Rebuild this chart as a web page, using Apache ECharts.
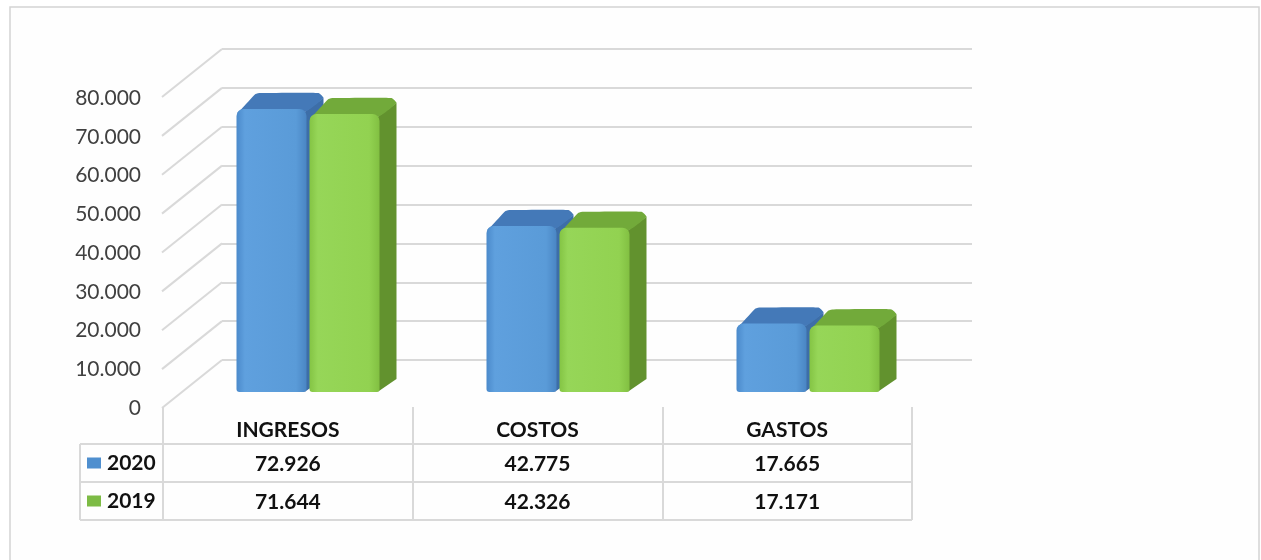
<!DOCTYPE html>
<html><head><meta charset="utf-8">
<script src="https://cdn.jsdelivr.net/npm/echarts@6/dist/echarts.min.js"></script>
<style>html,body{margin:0;padding:0;background:#fff}#c{width:1261px;height:560px}</style>
</head><body><div id="c"></div>
<script>
// ---- data ----
const categories = ['INGRESOS', 'COSTOS', 'GASTOS'];
const values2020 = [72926, 42775, 17665];
const values2019 = [71644, 42326, 17171];
const seriesNames = ['2020', '2019'];
const yTicks = [0, 10000, 20000, 30000, 40000, 50000, 60000, 70000, 80000];

function fmt(v) { return String(v).replace(/\B(?=(\d{3})+(?!\d))/g, '.'); }

const FONT = 'Lato';
const GRID_COLOR = '#d9d9d9';
const DEPTH = [17, -16];
const BAR_W = 70, BAR_GAP = 3;

const palettes = [
  { front: ['#4b8acb', '#5fa0de', '#5a9bd8', '#4a86c4'], top: '#4479b8', side: '#3d6ea8' },
  { front: ['#84c444', '#96d658', '#92d251', '#82c042'], top: '#72aa3a', side: '#62922e' }
];

function barRender(s) {
  return function (params, api) {
    const idx = api.value(0), val = api.value(1);
    const base = api.coord([idx, 0]);
    const top = api.coord([idx, val]);
    const left = s === 0 ? base[0] - BAR_W - BAR_GAP / 2 : base[0] + BAR_GAP / 2;
    const right = left + BAR_W;
    const y0 = base[1], yt = top[1];
    const [dx, dy] = DEPTH;
    const p = palettes[s];
    return {
      type: 'group',
      children: [
        { type: 'polygon', shape: { points: [[right - 2, yt + 3], [right + dx, yt + dy + 5], [right + dx, y0 + dy + 3], [right + dx - 3, y0 + dy + 5], [right - 2, y0]] },
          style: { fill: p.side } },
        { type: 'polygon', shape: { points: [[left + 1, yt + 4], [left + 5, yt], [left + dx + 2, yt + dy + 1], [left + dx + 7, yt + dy], [right + dx - 5, yt + dy], [right + dx, yt + dy + 5], [right - 2, yt + 3]], smooth: 0.15 },
          style: { fill: p.top } },
        { type: 'rect', shape: { x: left, y: yt, width: BAR_W, height: y0 - yt, r: [7, 7, 3, 3] },
          style: { fill: { type: 'linear', x: 0, y: 0, x2: 1, y2: 0, colorStops: [
            { offset: 0, color: p.front[0] }, { offset: 0.12, color: p.front[1] },
            { offset: 0.85, color: p.front[2] }, { offset: 1, color: p.front[3] }] } } }
      ]
    };
  };
}

// table lines (layout)
const tableLines = [];
[444, 482, 520].forEach(y => tableLines.push([80, y, 912, y]));
tableLines.push([80, 444, 80, 520]);
[163, 413, 663, 912].forEach(x => tableLines.push([x, 407, x, 520]));

const graphic = [
  { type: 'rect', shape: { x: 10, y: 7, width: 1249, height: 600 }, style: { fill: '#fefefe', stroke: '#d4d4d4', lineWidth: 1.5 }, z: -10, silent: true }
].concat(tableLines.map(l => ({ type: 'line', shape: { x1: l[0], y1: l[1], x2: l[2], y2: l[3] }, style: { stroke: GRID_COLOR, lineWidth: 2 }, silent: true })));

const chart = echarts.init(document.getElementById('c'), null, { renderer: 'canvas' });
chart.setOption({
  animation: false,
  backgroundColor: '#ffffff',
  graphic: graphic,
  legend: {
    data: seriesNames, orient: 'vertical', left: 87, top: 452, padding: 0, itemWidth: 14, itemHeight: 11, itemGap: 16,
    icon: 'rect', textStyle: { fontFamily: FONT, fontSize: 21, fontWeight: 'bold', color: '#111', lineHeight: 22, padding: [0, 0, 0, 1] },
    selectedMode: false
  },
  grid: [
    { left: 222, top: 49, width: 750, height: 311 },   // back wall
    { left: 163, top: 98, width: 749, height: 310 },   // front plane
    { left: 183, top: 81.6, width: 750, height: 310.4 } // bar plane
  ],
  xAxis: [
    { gridIndex: 0, type: 'value', min: 0, max: 1, show: false },
    { gridIndex: 1, type: 'category', data: categories, position: 'bottom',
      axisLine: { show: false }, axisTick: { show: false },
      axisLabel: { margin: 12, fontFamily: FONT, fontSize: 21, fontWeight: 'bold', color: '#111' } },
    { gridIndex: 1, type: 'category', data: categories, position: 'bottom', offset: 34,
      axisLine: { show: false }, axisTick: { show: false },
      axisLabel: { margin: 12, fontFamily: FONT, fontSize: 21, fontWeight: 'bold', color: '#111', formatter: (v, i) => fmt(values2020[i]) } },
    { gridIndex: 1, type: 'category', data: categories, position: 'bottom', offset: 72,
      axisLine: { show: false }, axisTick: { show: false },
      axisLabel: { margin: 12, fontFamily: FONT, fontSize: 21, fontWeight: 'bold', color: '#111', formatter: (v, i) => fmt(values2019[i]) } },
    { gridIndex: 2, type: 'category', data: categories, show: false }
  ],
  yAxis: [
    { gridIndex: 0, type: 'value', min: 0, max: 80000, interval: 10000,
      axisLine: { show: false }, axisTick: { show: false }, axisLabel: { show: false },
      splitLine: { show: true, lineStyle: { color: GRID_COLOR, width: 2 } } },
    { gridIndex: 1, type: 'value', min: 0, max: 80000, interval: 10000,
      axisLine: { show: false }, axisTick: { show: false }, splitLine: { show: false },
      axisLabel: { margin: 22, fontFamily: FONT, fontSize: 21, color: '#404040', formatter: v => fmt(v) } },
    { gridIndex: 2, type: 'value', min: 0, max: 80000, show: false }
  ],
  series: [
    { type: 'custom', name: 'walls', xAxisIndex: 0, yAxisIndex: 0, silent: true,
      data: yTicks.map(v => [0, v]),
      renderItem: function (params, api) {
        const p = api.coord([0, api.value(1)]);
        return { type: 'line', shape: { x1: p[0] - 60, y1: p[1] + 48, x2: p[0], y2: p[1] }, style: { stroke: GRID_COLOR, lineWidth: 2 } };
      } },
    { type: 'custom', name: seriesNames[0], xAxisIndex: 4, yAxisIndex: 2, itemStyle: { color: '#4f8fcf' },
      data: values2020.map((v, i) => [i, v]), renderItem: barRender(0) },
    { type: 'custom', name: seriesNames[1], xAxisIndex: 4, yAxisIndex: 2, itemStyle: { color: '#7dbb45' },
      data: values2019.map((v, i) => [i, v]), renderItem: barRender(1) }
  ]
});
</script></body></html>
